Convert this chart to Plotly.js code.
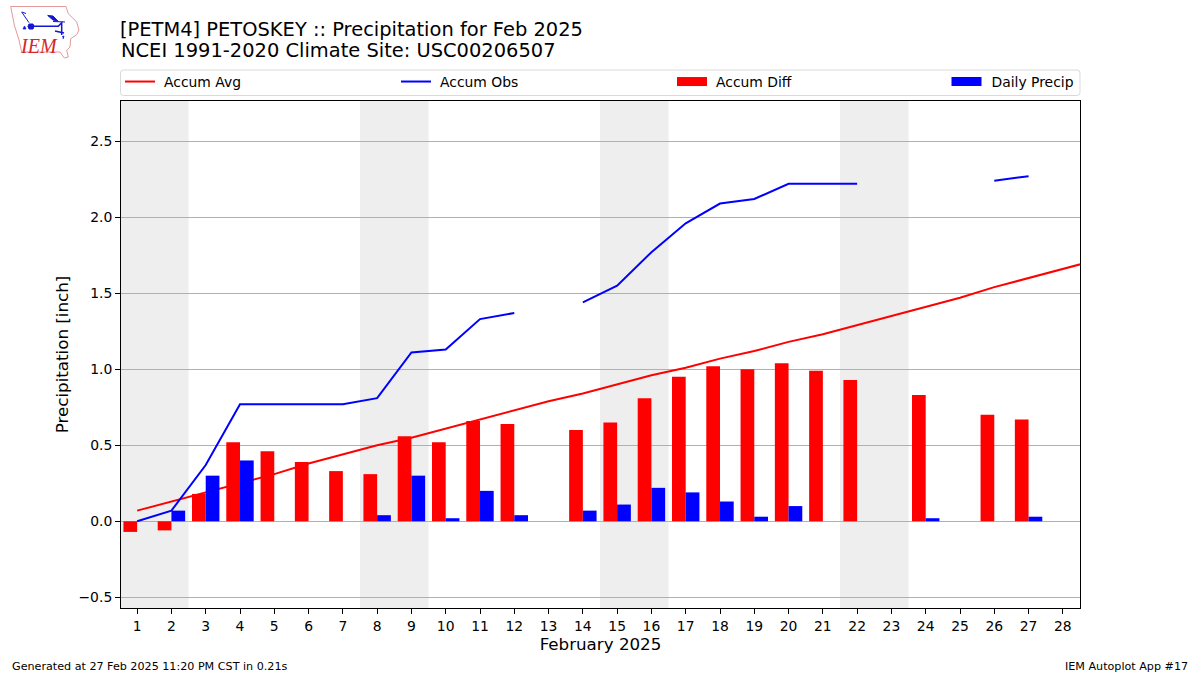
<!DOCTYPE html>
<html><head><meta charset="utf-8">
<script src="https://cdn.plot.ly/plotly-3.0.1.min.js"></script>
<style>html,body{margin:0;padding:0;background:#fff}#c{width:1200px;height:675px}</style>
</head><body><div id="c"></div>
<script>
const days = [1,2,3,4,5,6,7,8,9,10,11,12,13,14,15,16,17,18,19,20,21,22,23,24,25,26,27,28,29];
const accumAvg = [0.07,0.13,0.19,0.25,0.31,0.38,0.44,0.50,0.55,0.61,0.67,0.73,0.79,0.84,0.90,0.96,1.01,1.07,1.12,1.18,1.23,1.29,1.35,1.41,1.47,1.54,1.60,1.66,1.72];
const accumObs = [0,0.07,0.37,0.77,0.77,0.77,0.77,0.81,1.11,1.13,1.33,1.37,null,1.44,1.55,1.77,1.96,2.09,2.12,2.22,2.22,2.22,null,null,null,2.24,2.27,null,null];
const accumDiff = [-0.07,-0.06,0.18,0.52,0.46,0.39,0.33,0.31,0.56,0.52,0.66,0.64,null,0.60,0.65,0.81,0.95,1.02,1.00,1.04,0.99,0.93,null,0.83,null,0.70,0.67,null,null];
const dailyPrecip = [0,0.07,0.30,0.40,0,0,0,0.04,0.30,0.02,0.20,0.04,null,0.07,0.11,0.22,0.19,0.13,0.03,0.10,0,0,null,0.02,null,0,0.03,null,null];
const weekends = [[0.5,2.5],[7.5,9.5],[14.5,16.5],[21.5,23.5]];
const titleLine1 = "[PETM4] PETOSKEY :: Precipitation for Feb 2025";
const titleLine2 = "NCEI 1991-2020 Climate Site: USC00206507";
const footerLeft = "Generated at 27 Feb 2025 11:20 PM CST in 0.21s";
const footerRight = "IEM Autoplot App #17";

const FONT = "DejaVu Sans";
const L = 121, T = 101, W = 959, H = 507;
const xRange = [0.5292, 28.5];
const yRange = [-0.5705, 2.7645];
const px = (x) => (x - L) / W;
const py = (y) => (T + H - y) / H;
const path = (pts, close) => pts.map((p, i) => (i ? "L" : "M") + px(p[0]).toFixed(5) + "," + py(p[1]).toFixed(5)).join(" ") + (close ? " Z" : "");
const paperShape = (d, color, width, fill) => ({type:"path", xref:"paper", yref:"paper", path:d, line:{color, width}, fillcolor:fill || "rgba(0,0,0,0)", layer:"above"});

const shapes = weekends.map(w => ({type:"rect", xref:"x", yref:"paper", x0:w[0], x1:w[1], y0:0, y1:1, fillcolor:"#eeeeee", line:{width:0}, layer:"below"}));
// legend frame
const fx0 = px(120.5), fx1 = px(1080), fy0 = py(95.5), fy1 = py(70), rx = 3/W, ry = 3/H;
shapes.push({type:"path", xref:"paper", yref:"paper", layer:"below", fillcolor:"#fff", line:{color:"#d9d9d9", width:1},
  path:`M${fx0+rx},${fy0} L${fx1-rx},${fy0} Q${fx1},${fy0} ${fx1},${fy0+ry} L${fx1},${fy1-ry} Q${fx1},${fy1} ${fx1-rx},${fy1} L${fx0+rx},${fy1} Q${fx0},${fy1} ${fx0},${fy1-ry} L${fx0},${fy0+ry} Q${fx0},${fy0} ${fx0+rx},${fy0} Z`});
// logo
shapes.push(paperShape(path([[10.7,6.5],[66,6.5],[68.3,13.7],[76.7,22],[79,30],[76.7,34.7],[70.7,38.7],[70,47],[66.7,50.3],[68.3,57],[64.3,58],[60,52],[21.7,52],[19,40],[14.3,25]],true),"#e39a9a",1));
shapes.push(paperShape(path([[31,26.3],[58.3,26.3],[61.7,22.7],[61.7,35]]),"#1515d5",1.5));
shapes.push(paperShape(path([[21.7,12],[29,22.7]]),"#1515d5",1));
shapes.push(paperShape(path([[21.7,12],[26,13.5]]),"#1515d5",1));
shapes.push(paperShape(path([[47.7,15.5],[53,16],[58.3,21.3],[53,20]],true),"#1515d5",1,"#1515d5"));
shapes.push(paperShape(path([[53,21.5],[65,22]]),"#1515d5",1));
shapes.push(paperShape(path([[55,31],[64,33]]),"#1515d5",1.5));
shapes.push(paperShape(path([[62,37],[64,36],[63,39]]),"#1515d5",1));
shapes.push(paperShape(path([[29,24],[33,24],[34,26.3],[33,29],[29,29],[28,26.3]],true),"#1515d5",1,"#1515d5"));
shapes.push(paperShape(path([[23,29],[26,29],[24.5,26]],true),"#1515d5",0.7,"#1515d5"));

const annotations = [
  {xref:"paper", yref:"paper", x:px(120), y:py(51), xanchor:"left", yanchor:"middle", text:titleLine2, showarrow:false, borderpad:0, font:{family:FONT, size:19.45, color:"#000"}},
  {xref:"paper", yref:"paper", x:px(11), y:py(666), xanchor:"left", yanchor:"middle", text:footerLeft, showarrow:false, borderpad:0, font:{family:FONT, size:11.15, color:"#000"}},
  {xref:"paper", yref:"paper", x:px(1188.5), y:py(666), xanchor:"right", yanchor:"middle", text:footerRight, showarrow:false, borderpad:0, font:{family:FONT, size:11.15, color:"#000"}},
  {xref:"paper", yref:"paper", x:px(19), y:py(46), xanchor:"left", yanchor:"middle", text:"<i>IEM</i>", showarrow:false, borderpad:0, font:{family:"Liberation Serif", size:20, color:"#d62728"}}
];

const data = [
  {type:"scatter", mode:"lines", name:"Accum Avg", x:days, y:accumAvg, line:{color:"#ff0000", width:2}, yaxis:"y", connectgaps:false},
  {type:"scatter", mode:"lines", name:"Accum Obs", x:days, y:accumObs, line:{color:"#0000ff", width:2}, yaxis:"y", connectgaps:false},
  {type:"scatter", mode:"lines", name:"Accum Diff", x:[null], y:[null], line:{color:"#ff0000", width:9}, yaxis:"y"},
  {type:"scatter", mode:"lines", name:"Daily Precip", x:[null], y:[null], line:{color:"#0000ff", width:9}, yaxis:"y", legend:"legend2"},
  {type:"bar", name:"Accum Diff", showlegend:false, x:days, y:accumDiff, width:0.4, offset:-0.4, marker:{color:"#ff0000", line:{width:0}}, yaxis:"y2"},
  {type:"bar", name:"Daily Precip", showlegend:false, x:days, y:dailyPrecip, width:0.4, offset:0, marker:{color:"#0000ff", line:{width:0}}, yaxis:"y2"}
];

const legendBase = {orientation:"h", xref:"paper", yref:"paper", xanchor:"left", y:py(66), yanchor:"top", bgcolor:"rgba(0,0,0,0)", borderwidth:0, font:{family:FONT, size:13.9, color:"#000"}, traceorder:"normal", itemclick:false, itemdoubleclick:false};
const layout = {
  width:1200, height:675, paper_bgcolor:"#fff", plot_bgcolor:"#fff",
  margin:{l:L, r:1200-L-W, t:T, b:675-T-H, pad:0, autoexpand:false},
  font:{family:FONT, color:"#000", size:13.9},
  showlegend:true, barmode:"overlay",
  title:{text:titleLine1, x:0.1, xref:"container", xanchor:"left", yref:"container", y:1-29/675, yanchor:"middle", pad:{t:0,l:0,b:0,r:0}, font:{family:FONT, size:19.45, color:"#000"}},
  legend:Object.assign({}, legendBase, {x:px(120), entrywidth:231, entrywidthmode:"pixels"}),
  legend2:Object.assign({}, legendBase, {x:px(946.5)}),
  xaxis:{range:xRange, tickmode:"linear", tick0:1, dtick:1, ticks:"outside", ticklen:5, tickwidth:1, tickcolor:"#000", showgrid:false, zeroline:false, showline:true, linecolor:"#000", linewidth:1, mirror:true, tickfont:{size:13.9}, title:{text:"February 2025", font:{size:16.7}, standoff:4}},
  yaxis:{range:yRange, tickmode:"array", tickvals:[-0.5,0,0.5,1,1.5,2,2.5], ticktext:["\u22120.5","0.0","0.5","1.0","1.5","2.0","2.5"], ticks:"outside", ticklen:5, tickwidth:1, tickcolor:"#000", showgrid:true, gridcolor:"#b0b0b0", gridwidth:1, zeroline:true, zerolinecolor:"#b0b0b0", zerolinewidth:1, showline:true, linecolor:"#000", linewidth:1, mirror:true, tickfont:{size:13.9}, title:{text:"Precipitation [inch]", font:{size:16.7}, standoff:5}},
  yaxis2:{range:yRange, overlaying:"y", side:"left", visible:false},
  shapes, annotations
};
Plotly.newPlot("c", data, layout, {displayModeBar:false, staticPlot:true}).then(() => {
  document.querySelectorAll(".legendtext").forEach(t => t.setAttribute("x", 44));
  document.querySelectorAll(".legend2text").forEach(t => t.setAttribute("x", 45));
});
</script></body></html>
